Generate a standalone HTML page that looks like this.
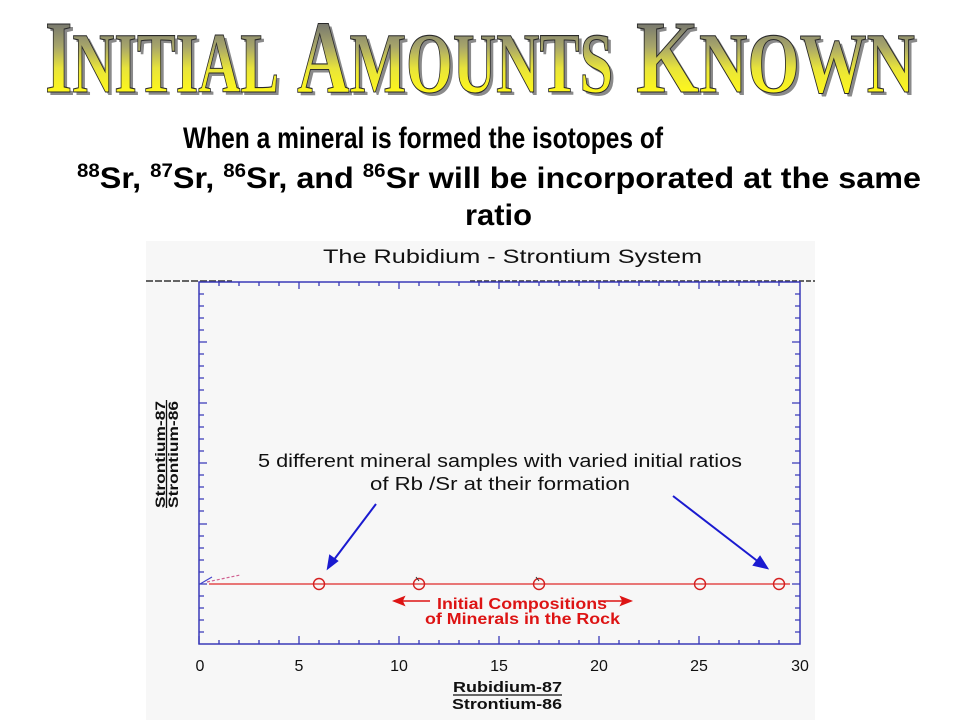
<!DOCTYPE html>
<html><head><meta charset="utf-8"><style>
html,body{margin:0;padding:0;background:#fff;}
svg{display:block;}
</style></head><body>
<svg width="960" height="720" viewBox="0 0 960 720" xmlns="http://www.w3.org/2000/svg">
<defs>
<linearGradient id="tg" x1="0" y1="22" x2="0" y2="93" gradientUnits="userSpaceOnUse">
<stop offset="0" stop-color="#75756f"/>
<stop offset="0.35" stop-color="#a8a66a"/>
<stop offset="0.65" stop-color="#e8e43a"/>
<stop offset="1" stop-color="#fff81a"/>
</linearGradient>
</defs>
<rect width="960" height="720" fill="#fff"/>

<!-- Title shadow -->
<g font-family="'Liberation Serif', serif" font-weight="bold" fill="#8a8a8a" transform="translate(3,3)">
<text x="45" y="92" textLength="234" lengthAdjust="spacingAndGlyphs"><tspan font-size="104">I</tspan><tspan font-size="86">NITIAL</tspan></text>
<text x="297" y="92" textLength="316" lengthAdjust="spacingAndGlyphs"><tspan font-size="104">A</tspan><tspan font-size="86">MOUNTS</tspan></text>
<text x="636" y="92" textLength="279" lengthAdjust="spacingAndGlyphs"><tspan font-size="104">K</tspan><tspan font-size="86">NOWN</tspan></text>
</g>
<!-- Title -->
<g font-family="'Liberation Serif', serif" font-weight="bold" fill="url(#tg)" stroke="#2a2a2a" stroke-width="1.1">
<text x="45" y="92" textLength="234" lengthAdjust="spacingAndGlyphs"><tspan font-size="104">I</tspan><tspan font-size="86">NITIAL</tspan></text>
<text x="297" y="92" textLength="316" lengthAdjust="spacingAndGlyphs"><tspan font-size="104">A</tspan><tspan font-size="86">MOUNTS</tspan></text>
<text x="636" y="92" textLength="279" lengthAdjust="spacingAndGlyphs"><tspan font-size="104">K</tspan><tspan font-size="86">NOWN</tspan></text>
</g>

<!-- Subtitle -->
<g font-family="'Liberation Sans', Arial, sans-serif" font-weight="bold" fill="#000">
<text transform="translate(183,148) scale(1,1.15)" x="0" y="0" font-size="26" textLength="480" lengthAdjust="spacingAndGlyphs">When a mineral is formed the isotopes of</text>
<text x="77" y="188" font-size="30" textLength="844" lengthAdjust="spacingAndGlyphs"><tspan font-size="19" dy="-11">88</tspan><tspan dy="11">Sr, </tspan><tspan font-size="19" dy="-11">87</tspan><tspan dy="11">Sr, </tspan><tspan font-size="19" dy="-11">86</tspan><tspan dy="11">Sr, and </tspan><tspan font-size="19" dy="-11">86</tspan><tspan dy="11">Sr will be incorporated at the same</tspan></text>
<text x="465" y="225" font-size="30" textLength="67" lengthAdjust="spacingAndGlyphs">ratio</text>
</g>

<!-- Chart panel -->
<rect x="146" y="241" width="669" height="479" fill="#f7f7f7"/>
<text x="323" y="263" font-family="'Liberation Sans', Arial, sans-serif" font-size="19" fill="#111" textLength="379" lengthAdjust="spacingAndGlyphs">The Rubidium - Strontium System</text>

<line x1="146" y1="281" x2="232" y2="281" stroke="#333" stroke-width="1.5" stroke-dasharray="7 2"/>
<line x1="470" y1="281" x2="815" y2="281" stroke="#333" stroke-width="1.5" stroke-dasharray="5 2"/>

<!-- Axes box -->
<rect x="199" y="282" width="601" height="362" fill="none" stroke="#3a3ab8" stroke-width="1.5"/>
<g stroke="#3a3ab8" stroke-width="1.3">
<path d="M199 644v-8M219 644v-4M239 644v-4M259 644v-4M279 644v-4M299 644v-8M319 644v-4M339 644v-4M359 644v-4M379 644v-4M399 644v-8M419 644v-4M439 644v-4M459 644v-4M479 644v-4M499 644v-8M519 644v-4M539 644v-4M559 644v-4M579 644v-4M599 644v-8M619 644v-4M639 644v-4M659 644v-4M679 644v-4M699 644v-8M719 644v-4M739 644v-4M759 644v-4M779 644v-4"/>
<path d="M219 282v4M239 282v4M259 282v4M279 282v4M299 282v7M319 282v4M339 282v4M359 282v4M379 282v4M399 282v7M419 282v4M439 282v4M459 282v4M479 282v4M499 282v7M519 282v4M539 282v4M559 282v4M579 282v4M599 282v7M619 282v4M639 282v4M659 282v4M679 282v4M699 282v7M719 282v4M739 282v4M759 282v4M779 282v4"/>
<path d="M199 294h5M199 306h5M199 318h5M199 330h5M199 342h8M199 354h5M199 366h5M199 378h5M199 390h5M199 403h8M199 415h5M199 427h5M199 439h5M199 451h5M199 463h8M199 475h5M199 487h5M199 499h5M199 511h5M199 524h8M199 536h5M199 548h5M199 560h5M199 572h5M199 584h8M199 596h5M199 608h5M199 620h5M199 632h5"/>
<path d="M800 294h-5M800 306h-5M800 318h-5M800 330h-5M800 342h-8M800 354h-5M800 366h-5M800 378h-5M800 390h-5M800 403h-8M800 415h-5M800 427h-5M800 439h-5M800 451h-5M800 463h-8M800 475h-5M800 487h-5M800 499h-5M800 511h-5M800 524h-8M800 536h-5M800 548h-5M800 560h-5M800 572h-5M800 584h-8M800 596h-5M800 608h-5M800 620h-5M800 632h-5"/>
</g>

<!-- x tick labels -->
<g font-family="'Liberation Sans', Arial, sans-serif" font-size="16" fill="#111" text-anchor="middle">
<text x="200" y="671">0</text>
<text x="299" y="671">5</text>
<text x="399" y="671">10</text>
<text x="499" y="671">15</text>
<text x="599" y="671">20</text>
<text x="699" y="671">25</text>
<text x="800" y="671">30</text>
</g>

<!-- x axis label -->
<g font-family="'Liberation Sans', Arial, sans-serif" font-weight="bold" font-size="15" fill="#111">
<text x="453" y="692" textLength="109" lengthAdjust="spacingAndGlyphs">Rubidium-87</text>
<line x1="453" y1="695" x2="562" y2="695" stroke="#111" stroke-width="1.3"/>
<text x="452" y="709" textLength="110" lengthAdjust="spacingAndGlyphs">Strontium-86</text>
</g>

<!-- y axis label -->
<g font-family="'Liberation Sans', Arial, sans-serif" font-weight="bold" font-size="14" fill="#111">
<text transform="translate(165,508) rotate(-90)" x="0" y="0" textLength="107" lengthAdjust="spacingAndGlyphs">Strontium-87</text>
<line x1="166.5" y1="400" x2="166.5" y2="508" stroke="#111" stroke-width="1.3"/>
<text transform="translate(178,508) rotate(-90)" x="0" y="0" textLength="107" lengthAdjust="spacingAndGlyphs">Strontium-86</text>
</g>

<!-- origin marks -->
<path d="M200 584 L212 577" stroke="#4444cc" stroke-width="1.2"/>
<path d="M207 582 L240 575" stroke="#d06090" stroke-width="1.2" stroke-dasharray="3 2"/>

<!-- red line & circles -->
<line x1="209" y1="584" x2="790" y2="584" stroke="#e02828" stroke-width="1.3"/>
<g fill="none" stroke="#d42020" stroke-width="1.4">
<circle cx="319" cy="584" r="5.5"/>
<circle cx="419" cy="584" r="5.5"/>
<circle cx="539" cy="584" r="5.5"/>
<circle cx="700" cy="584" r="5.5"/>
<circle cx="779" cy="584" r="5.5"/>
</g>
<path d="M416 577 L419 581 M536 577 L539 581" stroke="#333" stroke-width="1"/>

<!-- red annotation -->
<g font-family="'Liberation Sans', Arial, sans-serif" font-weight="bold" font-size="15.5" fill="#dd1414">
<text x="437" y="609" textLength="170" lengthAdjust="spacingAndGlyphs">Initial Compositions</text>
<text x="425" y="624" textLength="195" lengthAdjust="spacingAndGlyphs">of Minerals in the Rock</text>
</g>
<g stroke="#dd1414" stroke-width="1.5" fill="#dd1414">
<line x1="400" y1="601" x2="430" y2="601"/>
<path d="M394 601 L404 597 L402 601 L404 605 Z"/>
<line x1="598" y1="601" x2="624" y2="601"/>
<path d="M631 601 L621 597 L623 601 L621 605 Z"/>
</g>

<!-- black annotation -->
<g font-family="'Liberation Sans', Arial, sans-serif" font-size="18" fill="#111">
<text x="258" y="467" textLength="484" lengthAdjust="spacingAndGlyphs">5 different mineral samples with varied initial ratios</text>
<text x="370" y="490" textLength="260" lengthAdjust="spacingAndGlyphs">of Rb /Sr at their formation</text>
</g>

<!-- blue arrows -->
<g stroke="#1a1ad0" stroke-width="2" fill="#1a1ad0">
<line x1="376" y1="504" x2="333" y2="561"/>
<path d="M328 568 L330 556 L337 561 Z"/>
<line x1="673" y1="496" x2="760" y2="563"/>
<path d="M767 568 L754 565 L760 557 Z"/>
</g>
</svg>
</body></html>
